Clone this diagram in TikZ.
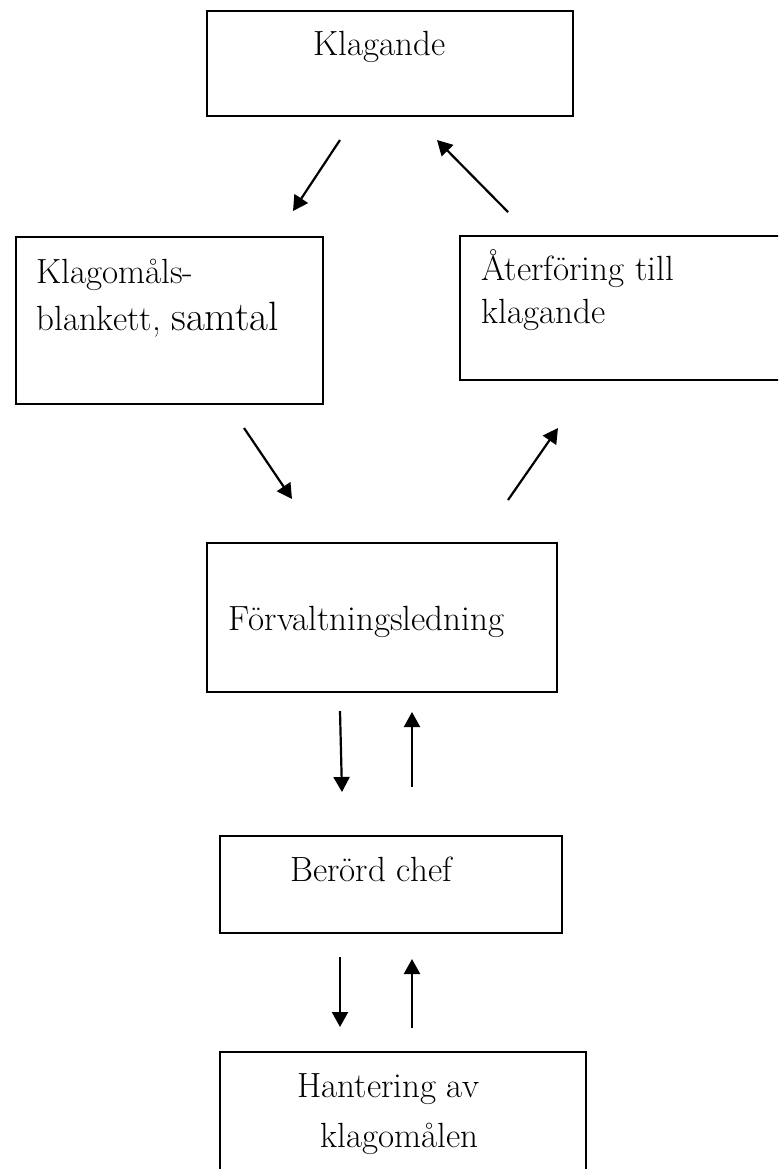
\documentclass[tikz,border=0pt]{standalone}
\usetikzlibrary{arrows.meta}

\begin{document}
\begin{tikzpicture}[x=0.5pt,y=-0.5pt]

  \tikzset{main node/.style={rectangle, draw, line width=1pt,
  		inner sep=0pt}, }
  \tikzset{main text/.style={anchor=base west, inner sep=0pt,
  		font=\fontsize{17.5}{21}\selectfont}, }
  \tikzset{linea/.style={-{Triangle[length=7.5pt,width=8pt]}, line width=1.1pt}, }
\useasboundingbox (0,0) rectangle (778,1169);
\clip (0,0) rectangle (778,1169);

\node[main node, minimum width=183pt, minimum height=52.5pt] (a) at (390,63.5) {};
\node[main node, minimum width=153.5pt, minimum height=83.5pt] (b) at (169.5,320.5) {};
\node[main node, minimum width=170pt, minimum height=72pt] (c) at (630,308) {};
\node[main node, minimum width=175pt, minimum height=74.5pt] (d) at (382,617.5) {};
\node[main node, minimum width=171pt, minimum height=48.5pt] (e) at (391,884.5) {};
\node[main node, minimum width=183pt, minimum height=74pt] (f) at (403,1126) {};

   \node[main text] (a1) at (313,55) {Klagande};
   \node[main text] (b1) at (36,283) {Klagomåls-};
   \node[main text] (b2) at (36,330) {blankett, {\fontsize{20.5}{24}\selectfont samtal}};
   \node[main text] (c1) at (481,280) {Återföring till};
   \node[main text] (c2) at (481,323) {klagande};
   \node[main text] (d1) at (228,630) {Förvaltningsledning};
   \node[main text] (e1) at (290,881) {Berörd chef};
   \node[main text] (f1) at (297,1097) {Hantering av};
   \node[main text] (f2) at (320,1147) {klagomålen};

%% arrow ends
\coordinate (p1) at (340,140);  \coordinate (q1) at (293,211);
\coordinate (p2) at (508,212);  \coordinate (q2) at (437,140);
\coordinate (p3) at (244,428);  \coordinate (q3) at (292,499);
\coordinate (p4) at (508,500);  \coordinate (q4) at (558,428);
\coordinate (p5) at (340,711);  \coordinate (q5) at (342,792);
\coordinate (p6) at (412,787);  \coordinate (q6) at (412,712);
\coordinate (p7) at (340,957);  \coordinate (q7) at (340,1027);
\coordinate (p8) at (412,1028); \coordinate (q8) at (412,959);

\foreach \x /\y in {p1/q1,p2/q2,p3/q3,p4/q4,p5/q5,p6/q6,p7/q7,p8/q8}
  \draw[linea] (\x) -- (\y);
%%
\end{tikzpicture}
\end{document}
